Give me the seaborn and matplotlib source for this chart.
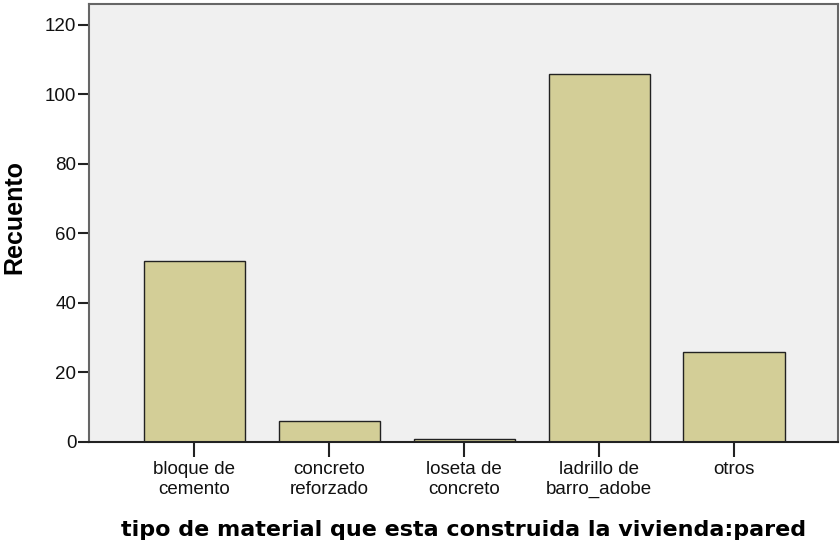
import matplotlib
matplotlib.use("Agg")
import matplotlib.pyplot as plt
import seaborn as sns
import pandas as pd

categories = ["bloque de\ncemento", "concreto\nreforzado", "loseta de\nconcreto",
              "ladrillo de\nbarro_adobe", "otros"]
counts = [52, 6, 1, 106, 26]
yticks = [0, 20, 40, 60, 80, 100, 120]

df = pd.DataFrame({"cat": categories, "n": counts})

sns.set_theme(style="white")
plt.rcParams["font.family"] = ["Liberation Sans", "DejaVu Sans"]

fig = plt.figure(figsize=(8.4, 5.44), dpi=100)
ax = fig.add_axes([89/840, 102/544, (838-89)/840, (442-4)/544])
ax.set_facecolor("#F0F0F0")

sns.barplot(data=df, x="cat", y="n", ax=ax, color="#D3CE97", width=0.75,
            edgecolor="#222222", linewidth=1.0, saturation=1)

ax.set_xlim(-0.78, 4.77)
ax.set_ylim(0, 126)
ax.set_yticks(yticks)
ax.set_yticklabels([str(v) for v in yticks])
ax.tick_params(axis="both", direction="out", width=1.5, color="#222222",
               labelsize=13.5, labelcolor="#111111", left=True, bottom=True)
ax.tick_params(axis="y", length=8, pad=1)
ax.tick_params(axis="x", length=11, pad=3)
for lbl in ax.get_xticklabels():
    lbl.set_linespacing(1.2)

for s in ["left", "top", "right"]:
    ax.spines[s].set_color("#666666")
    ax.spines[s].set_linewidth(1.5)
ax.spines["bottom"].set_color("#222222")
ax.spines["bottom"].set_linewidth(1.5)

ax.set_ylabel("Recuento", fontsize=18, fontweight="bold", color="black", labelpad=13.5)
ax.yaxis.label.set_y(0.513)
ax.set_xlabel("tipo de material que esta construida la vivienda:pared",
              fontsize=16, fontweight="bold", family=["DejaVu Sans"], color="black",
              labelpad=16)

fig.savefig("out.png", dpi=100)
